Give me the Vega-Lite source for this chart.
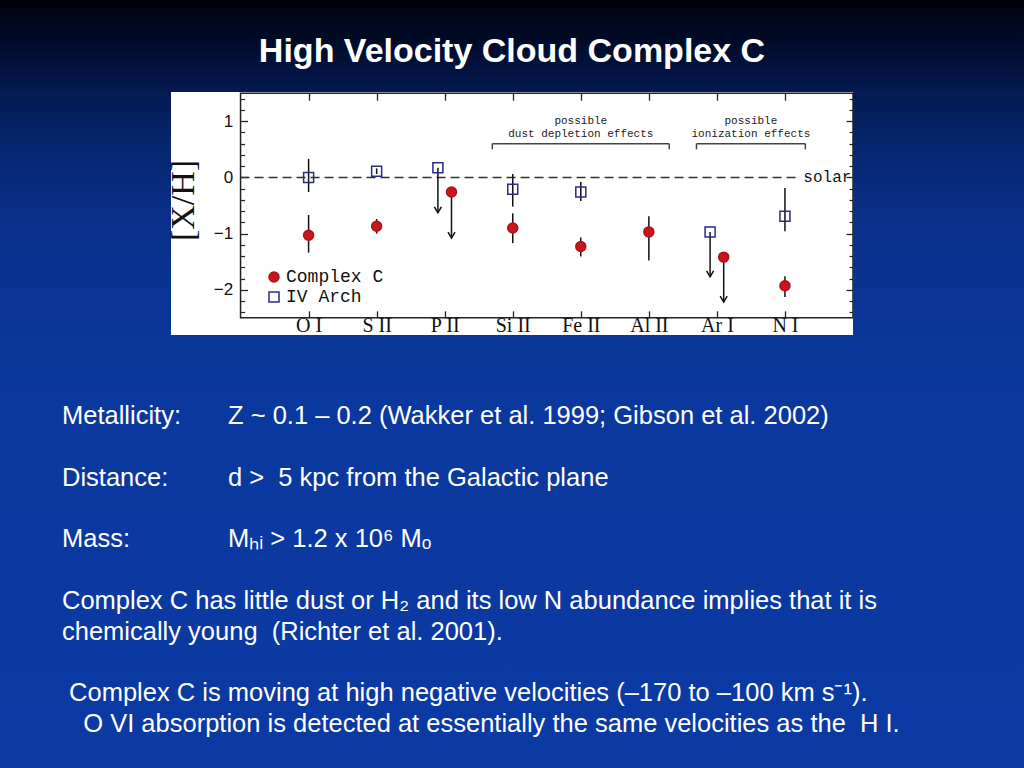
{
  "$schema": "https://vega.github.io/schema/vega-lite/v6.json",
  "padding": 0,
  "background": "#0a3698",
  "spacing": 0,
  "config": {"view": {"stroke": null}, "concat": {"spacing": 0}, "axis": {"grid": false, "domain": false}},
  "datasets": {
    "slide": [{"title": "High Velocity Cloud Complex C"}],
    "abund": [
      {"el": "O I", "cloud": "Complex C", "pos": 1, "val": -1.03, "lo": -1.34, "hi": -0.67},
      {"el": "S II", "cloud": "Complex C", "pos": 2, "val": -0.87, "lo": -1.0, "hi": -0.74},
      {"el": "P II", "cloud": "Complex C", "pos": 3.1, "val": -0.26, "limit": -1.08},
      {"el": "Si II", "cloud": "Complex C", "pos": 4, "val": -0.9, "lo": -1.17, "hi": -0.64},
      {"el": "Fe II", "cloud": "Complex C", "pos": 5, "val": -1.23, "lo": -1.41, "hi": -1.07},
      {"el": "Al II", "cloud": "Complex C", "pos": 6, "val": -0.97, "lo": -1.48, "hi": -0.69},
      {"el": "Ar I", "cloud": "Complex C", "pos": 7.1, "val": -1.42, "limit": -2.22},
      {"el": "N I", "cloud": "Complex C", "pos": 8, "val": -1.93, "lo": -2.13, "hi": -1.76},
      {"el": "O I", "cloud": "IV Arch", "pos": 1, "val": 0.0, "lo": -0.26, "hi": 0.33},
      {"el": "S II", "cloud": "IV Arch", "pos": 2, "val": 0.11, "lo": 0.06, "hi": 0.16},
      {"el": "P II", "cloud": "IV Arch", "pos": 2.9, "val": 0.17, "limit": -0.63},
      {"el": "Si II", "cloud": "IV Arch", "pos": 4, "val": -0.21, "lo": -0.52, "hi": 0.06},
      {"el": "Fe II", "cloud": "IV Arch", "pos": 5, "val": -0.26, "lo": -0.42, "hi": -0.08},
      {"el": "Ar I", "cloud": "IV Arch", "pos": 6.9, "val": -0.97, "limit": -1.77},
      {"el": "N I", "cloud": "IV Arch", "pos": 8, "val": -0.69, "lo": -0.96, "hi": -0.19}
    ],
    "brackets": [
      {"group": "dust depletion", "start": 3.7, "end": 6.3, "level": 0.6, "tip": 0.5},
      {"group": "ionization", "start": 6.7, "end": 8.3, "level": 0.6, "tip": 0.5}
    ],
    "notes": [
      {"note": "possible", "pos": 5.0, "level": 1.0},
      {"note": "dust depletion effects", "pos": 5.0, "level": 0.77},
      {"note": "possible", "pos": 7.5, "level": 1.0},
      {"note": "ionization effects", "pos": 7.5, "level": 0.77}
    ],
    "solar": [{"ref": "solar", "from": 0, "to": 8.23, "labelAt": 8.27, "v": 0}],
    "body": [
      {"line": 0, "tab": 0, "text": "Metallicity:"},
      {"line": 0, "tab": 1, "text": "Z ~ 0.1 – 0.2 (Wakker et al. 1999; Gibson et al. 2002)"},
      {"line": 2, "tab": 0, "text": "Distance:"},
      {"line": 2, "tab": 1, "text": "d >\u00a0 5 kpc from the Galactic plane"},
      {"line": 4, "tab": 0, "text": "Mass:"},
      {"line": 4, "tab": 1, "text": "Mₕᵢ > 1.2 x 10⁶ Mₒ"},
      {"line": 6, "tab": 0, "text": "Complex C has little dust or H₂ and its low N abundance implies that it is"},
      {"line": 7, "tab": 0, "text": "chemically young\u00a0 (Richter et al. 2001)."},
      {"line": 9, "tab": 0, "text": "\u200b\u00a0Complex C is moving at high negative velocities (–170 to –100 km s⁻¹)."},
      {"line": 10, "tab": 0, "text": "\u200b\u00a0\u00a0\u00a0O VI absorption is detected at essentially the same velocities as the\u00a0 H I."}
    ]
  },
  "vconcat": [
    {
      "width": 1024,
      "height": 92,
      "view": {"stroke": null, "fill": {"gradient": "linear", "x1": 0, "y1": 0, "x2": 0, "y2": 1, "stops": [{"offset": 0, "color": "#00010c"}, {"offset": 0.45, "color": "#010b28"}, {"offset": 1, "color": "#041a52"}]}},
      "data": {"name": "slide"},
      "mark": {"type": "text", "font": "Liberation Sans", "fontSize": 34, "fontWeight": "bold", "color": "white", "dy": 6, "align": "center", "baseline": "middle"},
      "encoding": {"text": {"field": "title"}}
    },
    {
      "spacing": 0,
      "bounds": "flush",
      "hconcat": [
        {
          "width": 171,
          "height": 243,
          "view": {"stroke": null, "fill": {"gradient": "linear", "x1": 0, "y1": 0, "x2": 0, "y2": 1, "stops": [{"offset": 0, "color": "#041a52"}, {"offset": 0.24, "color": "#072672"}, {"offset": 0.53, "color": "#09308a"}, {"offset": 0.86, "color": "#0a3596"}, {"offset": 1, "color": "#0a3698"}]}},
          "data": {"name": "slide"},
          "mark": {"type": "text"},
          "encoding": {"text": {"value": ""}}
        },
        {
          "width": 682,
          "height": 243,
          "view": {"fill": "white", "stroke": null},
          "resolve": {"axis": {"x": "independent", "y": "independent"}},
          "layer": [
            {
              "data": {"values": [{"box": "frame"}]},
              "mark": {"type": "rect", "fill": "transparent", "stroke": "#222", "strokeWidth": 1.5},
              "encoding": {
                "x": {"datum": 0, "type": "quantitative", "scale": {"domain": [-1.022, 9], "nice": false, "zero": false},
                  "axis": {"orient": "bottom", "offset": -17.2, "values": [1, 2, 3, 4, 5, 6, 7, 8], "labelExpr": "['', 'O I', 'S II', 'P II', 'Si II', 'Fe II', 'Al II', 'Ar I', 'N I'][datum.value]", "tickSize": -7, "tickWidth": 1.3, "tickColor": "#222", "labelPadding": 5, "labelFont": "Liberation Serif", "labelFontSize": 20, "labelColor": "#111", "labelBaseline": "top", "labelFlush": false, "labelOverlap": false, "title": null, "domain": false, "grid": false}},
                "x2": {"datum": 9},
                "y": {"datum": -2.5, "type": "quantitative", "scale": {"domain": [-2.806, 1.521], "nice": false, "zero": false},
                  "axis": {"orient": "left", "offset": -69.6, "values": [-2, -1, 0, 1], "tickSize": -7, "tickWidth": 1.3, "tickColor": "#222", "labelPadding": 15, "labelFont": "Liberation Sans", "labelFontSize": 17, "labelColor": "#111", "labelFlush": false, "labelOverlap": false, "title": "[X/H]", "titleFont": "Liberation Serif", "titleFontSize": 34, "titleFontWeight": "normal", "titleColor": "#111", "titleX": -40, "titleY": 108, "titleBaseline": "bottom", "titleAngle": 270, "titleAlign": "center", "domain": false, "grid": false}},
                "y2": {"datum": 1.5}
              }
            },
            {
              "data": {"name": "solar"},
              "mark": {"type": "rule", "strokeDash": [9, 5], "color": "#333", "strokeWidth": 1.5},
              "encoding": {
                "x": {"field": "from", "type": "quantitative", "axis": {"orient": "top", "offset": -1.2, "values": [1, 2, 3, 4, 5, 6, 7, 8], "tickSize": -7, "tickWidth": 1.3, "tickColor": "#222", "labels": false, "title": null, "domain": false, "grid": false}},
                "x2": {"field": "to"},
                "y": {"field": "v", "type": "quantitative", "axis": {"orient": "right", "offset": 0, "values": [-2, -1, 0, 1], "tickSize": -7, "tickWidth": 1.3, "tickColor": "#222", "labels": false, "title": null, "domain": false, "grid": false}}
              }
            },
            {
              "data": {"name": "abund"},
              "transform": [{"filter": "isValid(datum.lo)"}],
              "mark": {"type": "rule", "color": "#111", "strokeWidth": 1.5},
              "encoding": {
                "x": {"field": "pos", "type": "quantitative", "axis": null},
                "y": {"field": "lo", "type": "quantitative", "axis": {"orient": "left", "offset": -69.6, "values": [-2.4, -2.2, -1.8, -1.6, -1.4, -1.2, -0.8, -0.6, -0.4, -0.2, 0.2, 0.4, 0.6, 0.8, 1.2, 1.4], "tickSize": -4, "tickWidth": 1.2, "tickColor": "#222", "labels": false, "title": null, "domain": false, "grid": false}},
                "y2": {"field": "hi"}
              }
            },
            {
              "data": {"name": "abund"},
              "transform": [{"filter": "isValid(datum.limit)"}],
              "mark": {"type": "rule", "color": "#111", "strokeWidth": 1.5},
              "encoding": {
                "x": {"field": "pos", "type": "quantitative", "axis": null},
                "y": {"field": "val", "type": "quantitative", "axis": {"orient": "right", "offset": 0, "values": [-2.4, -2.2, -1.8, -1.6, -1.4, -1.2, -0.8, -0.6, -0.4, -0.2, 0.2, 0.4, 0.6, 0.8, 1.2, 1.4], "tickSize": -4, "tickWidth": 1.2, "tickColor": "#222", "labels": false, "title": null, "domain": false, "grid": false}},
                "y2": {"field": "limit"}
              }
            },
            {
              "data": {"name": "abund"},
              "transform": [{"filter": "isValid(datum.limit)"}],
              "mark": {"type": "point", "shape": "M-1,-1.7L0,0L1,-1.7", "size": 49, "filled": false, "stroke": "#111", "strokeWidth": 1.5, "opacity": 1},
              "encoding": {
                "x": {"field": "pos", "type": "quantitative", "axis": null},
                "y": {"field": "limit", "type": "quantitative", "axis": null}
              }
            },
            {
              "data": {"name": "brackets"},
              "mark": {"type": "rule", "color": "#444", "strokeWidth": 1.5},
              "encoding": {
                "x": {"field": "start", "type": "quantitative", "axis": null},
                "x2": {"field": "end"},
                "y": {"field": "level", "type": "quantitative", "axis": null}
              }
            },
            {
              "data": {"name": "brackets"},
              "mark": {"type": "rule", "color": "#444", "strokeWidth": 1.5},
              "encoding": {
                "x": {"field": "start", "type": "quantitative", "axis": null},
                "y": {"field": "level", "type": "quantitative", "axis": null},
                "y2": {"field": "tip"}
              }
            },
            {
              "data": {"name": "brackets"},
              "mark": {"type": "rule", "color": "#444", "strokeWidth": 1.5},
              "encoding": {
                "x": {"field": "end", "type": "quantitative", "axis": null},
                "y": {"field": "level", "type": "quantitative", "axis": null},
                "y2": {"field": "tip"}
              }
            },
            {
              "data": {"name": "notes"},
              "mark": {"type": "text", "font": "Liberation Mono", "fontSize": 11, "color": "#222", "align": "center", "baseline": "middle"},
              "encoding": {
                "x": {"field": "pos", "type": "quantitative", "axis": null},
                "y": {"field": "level", "type": "quantitative", "axis": null},
                "text": {"field": "note"}
              }
            },
            {
              "data": {"name": "solar"},
              "mark": {"type": "text", "font": "Liberation Mono", "fontSize": 16, "color": "#111", "align": "left", "baseline": "middle"},
              "encoding": {
                "x": {"field": "labelAt", "type": "quantitative", "axis": null},
                "y": {"field": "v", "type": "quantitative", "axis": null},
                "text": {"field": "ref"}
              }
            },
            {
              "data": {"name": "abund"},
              "mark": {"type": "point", "size": 100, "strokeWidth": 1.5, "opacity": 1, "fillOpacity": 1},
              "encoding": {
                "x": {"field": "pos", "type": "quantitative", "axis": null},
                "y": {"field": "val", "type": "quantitative", "axis": null},
                "shape": {"field": "cloud", "type": "nominal", "scale": {"domain": ["Complex C", "IV Arch"], "range": ["circle", "square"]},
                  "legend": {"orient": "none", "legendX": 265, "legendY": 268, "title": null, "labelFont": "Liberation Mono", "labelFontSize": 18, "labelColor": "#111", "labelOffset": 3, "rowPadding": 2, "padding": 0, "symbolStrokeWidth": 1.5}},
                "fill": {"field": "cloud", "type": "nominal", "scale": {"domain": ["Complex C", "IV Arch"], "range": ["#c8161d", "transparent"]},
                  "legend": {"orient": "none", "legendX": 265, "legendY": 268, "title": null, "labelFont": "Liberation Mono", "labelFontSize": 18, "labelColor": "#111", "labelOffset": 3, "rowPadding": 2, "padding": 0, "symbolStrokeWidth": 1.5}},
                "stroke": {"field": "cloud", "type": "nominal", "scale": {"domain": ["Complex C", "IV Arch"], "range": ["#b01018", "#2a2a88"]},
                  "legend": {"orient": "none", "legendX": 265, "legendY": 268, "title": null, "labelFont": "Liberation Mono", "labelFontSize": 18, "labelColor": "#111", "labelOffset": 3, "rowPadding": 2, "padding": 0, "symbolStrokeWidth": 1.5}}
              }
            }
          ]
        },
        {
          "width": 171,
          "height": 243,
          "view": {"stroke": null, "fill": {"gradient": "linear", "x1": 0, "y1": 0, "x2": 0, "y2": 1, "stops": [{"offset": 0, "color": "#041a52"}, {"offset": 0.24, "color": "#072672"}, {"offset": 0.53, "color": "#09308a"}, {"offset": 0.86, "color": "#0a3596"}, {"offset": 1, "color": "#0a3698"}]}},
          "data": {"name": "slide"},
          "mark": {"type": "text"},
          "encoding": {"text": {"value": ""}}
        }
      ]
    },
    {
      "width": 1024,
      "height": 433,
      "view": {"stroke": null, "fill": {"gradient": "linear", "x1": 0, "y1": 0, "x2": 0, "y2": 1, "stops": [{"offset": 0, "color": "#0a3698"}, {"offset": 0.15, "color": "#0b389e"}, {"offset": 1, "color": "#0b3aa4"}]}},
      "data": {"name": "body"},
      "mark": {"type": "text", "font": "Liberation Sans", "fontSize": 25.5, "color": "white", "align": "left", "baseline": "middle"},
      "encoding": {
        "x": {"field": "tab", "type": "quantitative", "scale": {"domain": [0, 1], "range": [62, 228]}, "axis": null},
        "y": {"field": "line", "type": "quantitative", "scale": {"domain": [0, 10], "range": [80, 388]}, "axis": null},
        "text": {"field": "text"}
      }
    }
  ]
}
